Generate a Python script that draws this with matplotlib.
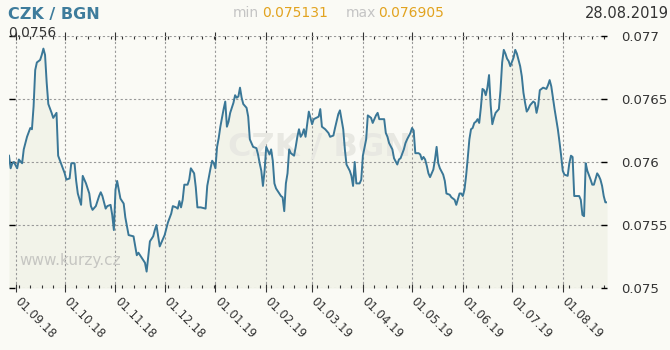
import numpy as np
import pandas as pd
import matplotlib
matplotlib.use('Agg')
import matplotlib.pyplot as plt
import matplotlib.dates as mdates
import matplotlib.transforms as mtransforms
from matplotlib.ticker import FixedLocator, FuncFormatter

# CZK / BGN, daily rate
start = pd.Timestamp('2018-08-28')

days = [0, 1, 2, 3, 5, 6, 8, 9, 11, 13, 14, 15, 16, 17, 19, 20, 21, 22, 23,
        24, 26, 27, 29, 30, 32, 34, 35, 37, 38, 40, 41, 42, 44, 45, 47, 49,
        50, 51, 53, 55, 56, 57, 59, 60, 62, 63, 64, 65, 66, 67, 68, 70, 71,
        73, 76, 78, 79, 81, 83, 84, 85, 86, 88, 89, 90, 92, 94, 95, 97, 99,
        100, 102, 103, 104, 105, 106, 107, 109, 110, 111, 112, 113, 114, 115,
        117, 120, 121, 123, 124, 125, 126, 127, 128, 129, 131, 132, 133, 134,
        135, 137, 138, 139, 140, 141, 142, 143, 145, 146, 147, 149, 151, 152,
        153, 154, 155, 156, 157, 158, 159, 160, 161, 162, 163, 165, 166, 167,
        168, 169, 170, 171, 172, 174, 175, 176, 177, 178, 179, 180, 181, 183,
        184, 185, 186, 189, 190, 191, 193, 195, 196, 198, 199, 201, 202, 204,
        205, 206, 208, 209, 210, 211, 212, 214, 215, 216, 218, 219, 221, 222,
        224, 225, 226, 229, 230, 231, 232, 234, 235, 237, 238, 239, 241, 242,
        243, 245, 246, 247, 248, 250, 251, 252, 253, 254, 255, 256, 257, 259,
        260, 261, 262, 263, 265, 266, 267, 269, 270, 272, 273, 275, 276, 277,
        278, 279, 280, 281, 282, 283, 284, 285, 286, 287, 288, 289, 290, 291,
        292, 293, 294, 295, 296, 297, 299, 300, 301, 302, 303, 304, 305, 306,
        308, 309, 310, 312, 313, 314, 315, 316, 317, 318, 320, 321, 322, 323,
        324, 326, 328, 329, 330, 331, 332, 333, 334, 335, 336, 337, 338, 339,
        341, 342, 343, 344, 345, 346, 348, 349, 350, 351, 352, 353, 355, 356,
        357, 359, 360, 361, 362, 363, 364, 365]

rate = [0.07605, 0.07595, 0.07599, 0.07600, 0.07595, 0.07602, 0.07599,
        0.07610, 0.07620, 0.07627, 0.07626, 0.07644, 0.07673, 0.07679,
        0.07681, 0.07685, 0.07690, 0.07685, 0.07663, 0.07646, 0.07639,
        0.07635, 0.07639, 0.07605, 0.07598, 0.07591, 0.07586, 0.07587,
        0.07599, 0.07599, 0.07585, 0.07575, 0.07566, 0.07589, 0.07583,
        0.07575, 0.07565, 0.07562, 0.07565, 0.07573, 0.07576, 0.07573,
        0.07563, 0.07565, 0.07566, 0.07558, 0.07546, 0.07578, 0.07585,
        0.07578, 0.07571, 0.07567, 0.07556, 0.07542, 0.07541, 0.07526,
        0.07528, 0.07524, 0.07520, 0.07513, 0.07525, 0.07537, 0.07541,
        0.07546, 0.07550, 0.07533, 0.07539, 0.07542, 0.07552, 0.07559,
        0.07565, 0.07564, 0.07563, 0.07569, 0.07564, 0.07570, 0.07582,
        0.07582, 0.07586, 0.07595, 0.07593, 0.07591, 0.07580, 0.07564,
        0.07564, 0.07563, 0.07581, 0.07595, 0.07601, 0.07599, 0.07595,
        0.07612, 0.07619, 0.07628, 0.07642, 0.07648, 0.07628, 0.07632,
        0.07639, 0.07647, 0.07653, 0.07651, 0.07652, 0.07659, 0.07651,
        0.07646, 0.07643, 0.07636, 0.07618, 0.07612, 0.07611, 0.07606,
        0.07599, 0.07593, 0.07581, 0.07593, 0.07612, 0.07609, 0.07606,
        0.07610, 0.07601, 0.07583, 0.07579, 0.07575, 0.07573, 0.07572,
        0.07561, 0.07583, 0.07591, 0.07610, 0.07607, 0.07605, 0.07612,
        0.07620, 0.07626, 0.07620, 0.07622, 0.07626, 0.07620, 0.07640,
        0.07635, 0.07630, 0.07634, 0.07636, 0.07642, 0.07628, 0.07626,
        0.07623, 0.07620, 0.07621, 0.07627, 0.07638, 0.07641, 0.07626,
        0.07610, 0.07598, 0.07593, 0.07589, 0.07581, 0.07600, 0.07583,
        0.07583, 0.07586, 0.07605, 0.07618, 0.07637, 0.07635, 0.07631,
        0.07637, 0.07639, 0.07634, 0.07634, 0.07623, 0.07620, 0.07615,
        0.07610, 0.07603, 0.07598, 0.07602, 0.07603, 0.07610, 0.07615,
        0.07618, 0.07623, 0.07627, 0.07625, 0.07607, 0.07607, 0.07606,
        0.07602, 0.07604, 0.07602, 0.07597, 0.07591, 0.07588, 0.07594,
        0.07602, 0.07612, 0.07599, 0.07595, 0.07590, 0.07585, 0.07575,
        0.07574, 0.07572, 0.07570, 0.07566, 0.07575, 0.07575, 0.07573,
        0.07578, 0.07589, 0.07603, 0.07618, 0.07626, 0.07627, 0.07631,
        0.07632, 0.07634, 0.07631, 0.07643, 0.07658, 0.07657, 0.07653,
        0.07659, 0.07669, 0.07645, 0.07630, 0.07635, 0.07639, 0.07642,
        0.07657, 0.07679, 0.07689, 0.07686, 0.07682, 0.07680, 0.07676,
        0.07683, 0.07689, 0.07686, 0.07676, 0.07668, 0.07655, 0.07647,
        0.07640, 0.07642, 0.07645, 0.07648, 0.07647, 0.07639, 0.07645,
        0.07657, 0.07659, 0.07658, 0.07661, 0.07665, 0.07660, 0.07651,
        0.07642, 0.07634, 0.07626, 0.07616, 0.07605, 0.07593, 0.07590,
        0.07589, 0.07599, 0.07605, 0.07604, 0.07573, 0.07573, 0.07573,
        0.07570, 0.07558, 0.07557, 0.07599, 0.07593, 0.07586, 0.07582,
        0.07582, 0.07591, 0.07589, 0.07586, 0.07581, 0.07573, 0.07568,
        0.07568]

yticks = [0.075, 0.0755, 0.076, 0.0765, 0.077]

dates = start + pd.to_timedelta(days, unit='D')

bg = '#fafaf5'
c_line = '#3a7797'
c_fill = '#f2f3e9'

fig = plt.figure(figsize=(6.7, 3.5), dpi=100, facecolor=bg)
ax = fig.add_axes([9 / 670, 62 / 350, 598 / 670, 252 / 350])
ax.set_facecolor(bg)

ax.fill_between(dates, rate, 0.075, color=c_fill, zorder=1, lw=0)
ax.plot(dates, rate, color=c_line, lw=1.4, zorder=4)

# watermarks
ax.text(0.52, 0.56, 'CZK / BGN', transform=ax.transAxes, ha='center',
        va='center', fontsize=23, fontweight='bold', color='#e8e8e2',
        zorder=2)
ax.text(0.018, 0.09, 'www.kurzy.cz', transform=ax.transAxes, fontsize=11,
        color='#c6c6c2', zorder=2)

ax.set_xlim(dates[0], dates[-1])
ax.set_ylim(0.075, 0.077)

ax.xaxis.set_major_locator(mdates.MonthLocator(bymonthday=1))
ax.xaxis.set_major_formatter(mdates.DateFormatter('%d.%m.%y'))
ax.xaxis.set_minor_locator(mdates.WeekdayLocator(byweekday=mdates.MO))
ax.yaxis.set_major_locator(FixedLocator(yticks))
ax.yaxis.set_major_formatter(FuncFormatter(lambda v, p: '{:g}'.format(round(v, 5))))

ax.grid(True, which='major', color='#999999', ls=(0, (2, 2)), lw=0.8,
        zorder=3)
for s in ax.spines.values():
    s.set_visible(False)

ax.tick_params(axis='y', which='major', direction='in', length=4,
               width=1, color='black', left=True, right=True,
               labelleft=False, labelright=True, labelsize=9.5,
               labelcolor='#333333', pad=10)
ax.tick_params(axis='x', which='major', direction='inout', length=6,
               width=0.8, color='#333333', top=True, bottom=True,
               labelsize=8.5, labelcolor='#333333', pad=2)
ax.tick_params(axis='x', which='minor', direction='in', length=2,
               width=0.8, color='#333333', top=True, bottom=True)
shift = mtransforms.ScaledTranslation(4 / 72, 0, fig.dpi_scale_trans)
for lab in ax.get_xticklabels():
    lab.set_rotation(-45)
    lab.set_ha('left')
    lab.set_va('top')
    lab.set_rotation_mode('anchor')
    lab.set_transform(lab.get_transform() + shift)

fig.text(8 / 670, 1 - 14 / 350, 'CZK / BGN', fontsize=11.5,
         fontweight='bold', color='#3e7c9c', va='center')
fig.text(233 / 670, 1 - 13 / 350, 'min', fontsize=10, color='#c4c4c4',
         va='center')
fig.text(262 / 670, 1 - 13 / 350, '0.075131', fontsize=10,
         color='#e2a31f', va='center')
fig.text(346 / 670, 1 - 13 / 350, 'max', fontsize=10, color='#c4c4c4',
         va='center')
fig.text(378 / 670, 1 - 13 / 350, '0.076905', fontsize=10,
         color='#e2a31f', va='center')
fig.text(669 / 670, 1 - 13 / 350, '28.08.2019', fontsize=10.5,
         color='#333333', va='center', ha='right')
fig.text(8 / 670, 1 - 33 / 350, '0.0756', fontsize=10, color='#333333',
         va='center')

fig.savefig('out.png', dpi=100, facecolor=bg)
